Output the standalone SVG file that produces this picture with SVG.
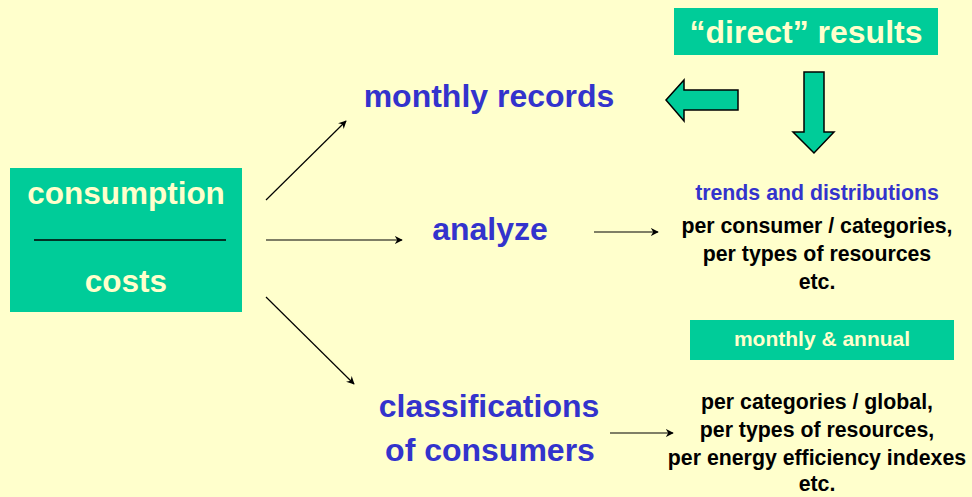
<svg xmlns="http://www.w3.org/2000/svg" width="972" height="497" viewBox="0 0 972 497">
<style>
.box{fill:#00CC99}
.cream{fill:#FFFFCC;font-family:"Liberation Sans",Arial,sans-serif;font-weight:bold;text-anchor:middle}
.blue{fill:#3333CC;font-family:"Liberation Sans",Arial,sans-serif;font-weight:bold;text-anchor:middle}
.blk{fill:#000;font-family:"Liberation Sans",Arial,sans-serif;font-weight:bold;text-anchor:middle;font-size:21.3px}
.con{stroke:#000;stroke-width:1.2;fill:none;marker-end:url(#ah)}
.big{fill:#00CC99;stroke:#000;stroke-width:1.5}
</style>
<defs>
<marker id="ah" viewBox="0 0 10 10" refX="9" refY="5" markerWidth="8" markerHeight="8" markerUnits="userSpaceOnUse" orient="auto">
<path d="M0,0 L10,5 L0,10 L3,5 Z" fill="#000"/>
</marker>
</defs>
<rect width="972" height="497" fill="#FFFFCC"/>
<g id="direct-results">
<rect class="box" x="674" y="8" width="264" height="47"/>
<text class="cream" x="806" y="43" font-size="32">“direct” results</text>
</g>
<g id="left-arrow">
<polygon class="big" points="666,100 684,80 684,90 738,90 738,110 684,110 684,121"/>
</g>
<g id="down-arrow">
<polygon class="big" points="804,72 824,72 824,132 834,132 814,153 793,132 804,132"/>
</g>
<g id="consumption-costs">
<rect class="box" x="10" y="168" width="232" height="144"/>
<text class="cream" x="126" y="204" font-size="31.5">consumption</text>
<line x1="34" y1="240" x2="226" y2="240" stroke="#000" stroke-width="1.5"/>
<text class="cream" x="126" y="292" font-size="31.5">costs</text>
</g>
<g id="monthly-records">
<text class="blue" x="489" y="107" font-size="32">monthly records</text>
</g>
<g id="analyze">
<text class="blue" x="490" y="240" font-size="32">analyze</text>
</g>
<g id="classifications">
<text class="blue" x="489" y="417" font-size="32">classifications</text>
<text class="blue" x="490" y="461" font-size="32">of consumers</text>
</g>
<g id="trends">
<text class="blue" x="817" y="200" font-size="21.3">trends and distributions</text>
<text class="blk" x="817" y="233">per consumer / categories,</text>
<text class="blk" x="817" y="261">per types of resources</text>
<text class="blk" x="817" y="289">etc.</text>
</g>
<g id="monthly-annual">
<rect class="box" x="690" y="320" width="264" height="40"/>
<text class="cream" x="822" y="346" font-size="21">monthly &amp; annual</text>
</g>
<g id="per-categories">
<text class="blk" x="817" y="409">per categories / global,</text>
<text class="blk" x="817" y="437">per types of resources,</text>
<text class="blk" x="817" y="465">per energy efficiency indexes</text>
<text class="blk" x="817" y="491">etc.</text>
</g>
<g id="connectors">
<line class="con" x1="266" y1="200" x2="346" y2="121"/>
<line class="con" x1="266" y1="240" x2="402" y2="240"/>
<line class="con" x1="266" y1="297" x2="354" y2="384"/>
<line class="con" x1="594" y1="232" x2="658" y2="232"/>
<line class="con" x1="610" y1="433" x2="673" y2="433"/>
</g>
</svg>
